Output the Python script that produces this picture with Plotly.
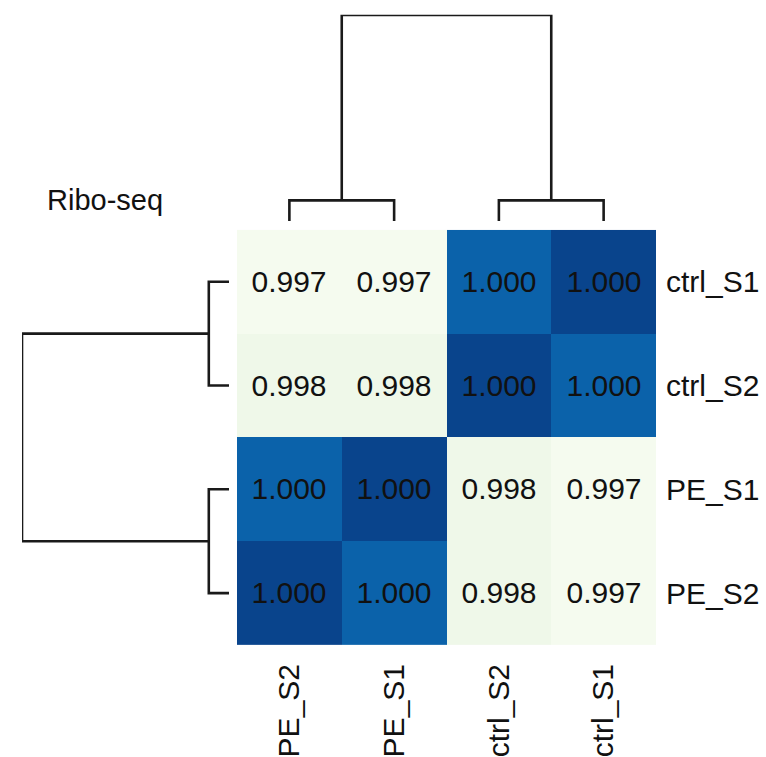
import plotly.graph_objects as go

# ---- data ----
col_labels = ["PE_S2", "PE_S1", "ctrl_S2", "ctrl_S1"]
row_labels = ["ctrl_S1", "ctrl_S2", "PE_S1", "PE_S2"]
# correlation values (rows top->bottom, columns left->right)
row_ctrl_S1 = [0.9972, 0.9972, 0.9997, 1.0000]
row_ctrl_S2 = [0.9978, 0.9978, 1.0000, 0.9997]
row_PE_S1 = [0.9997, 1.0000, 0.9978, 0.9972]
row_PE_S2 = [1.0000, 0.9997, 0.9978, 0.9972]
z = [row_ctrl_S1, row_ctrl_S2, row_PE_S1, row_PE_S2]

# dendrogram merges: (left member, right member, height); members >= 4 are earlier merges
col_linkage = [(0, 1, 0.0004), (2, 3, 0.0004), (4, 5, 0.0040)]
row_linkage = [(0, 1, 0.0004), (2, 3, 0.0004), (4, 5, 0.0041)]

title_text = "Ribo-seq"

W, H = 766, 757
FONT = "Liberation Sans, Arial, sans-serif"
LINE = dict(color="#1a1a1a", width=2.6)


def px_x(p):
    return p / W


def px_y(p):
    return 1 - p / H


def dendro_segments(linkage, n):
    pos = {i: float(i) for i in range(n)}
    hgt = {i: 0.0 for i in range(n)}
    segs = []
    for k, (a, b, h) in enumerate(linkage):
        node = n + k
        segs.append([(pos[a], hgt[a]), (pos[a], h), (pos[b], h), (pos[b], hgt[b])])
        pos[node] = (pos[a] + pos[b]) / 2
        hgt[node] = h
    return segs


fig = go.Figure()

fig.add_trace(go.Heatmap(
    z=z, x=list(range(len(col_labels))), y=list(range(len(row_labels))),
    zmin=0.997, zmax=1.0,
    colorscale=[[0.0, "#f7fcf2"], [0.0667, "#f5fbef"], [0.2667, "#eff8e9"],
                [0.9, "#0b62aa"], [1.0, "#09448c"]],
    showscale=False,
    texttemplate="%{z:.3f}",
    textfont=dict(family=FONT, size=30, color="#111111"),
    xaxis="x", yaxis="y", hoverinfo="skip",
))

for seg in dendro_segments(col_linkage, len(col_labels)):
    fig.add_trace(go.Scatter(
        x=[p[0] for p in seg], y=[p[1] for p in seg], mode="lines",
        line=LINE, xaxis="x2", yaxis="y2", showlegend=False,
        cliponaxis=False, hoverinfo="skip"))

for seg in dendro_segments(row_linkage, len(row_labels)):
    fig.add_trace(go.Scatter(
        x=[p[1] for p in seg], y=[p[0] for p in seg], mode="lines",
        line=LINE, xaxis="x3", yaxis="y3", showlegend=False,
        cliponaxis=False, hoverinfo="skip"))

hm_x = [px_x(237), px_x(656)]
hm_y = [px_y(651), px_y(232)]

fig.update_layout(
    width=W, height=H,
    margin=dict(l=0, r=0, t=0, b=0),
    paper_bgcolor="white", plot_bgcolor="white",
    font=dict(family=FONT, size=30, color="#111111"),
    showlegend=False,
    xaxis=dict(domain=hm_x, range=[-0.5, 3.5], anchor="y",
               tickvals=list(range(len(col_labels))), ticktext=col_labels,
               tickangle=-90, ticks="", ticklabelstandoff=12,
               showgrid=False, zeroline=False, showline=False,
               tickfont=dict(family=FONT, size=30, color="#111111")),
    yaxis=dict(domain=hm_y, range=[3.5, -0.5], anchor="x", side="right",
               tickvals=list(range(len(row_labels))), ticktext=row_labels,
               ticks="", ticklabelstandoff=9,
               showgrid=False, zeroline=False, showline=False,
               tickfont=dict(family=FONT, size=30, color="#111111")),
    xaxis2=dict(domain=hm_x, range=[-0.5, 3.5], anchor="y2",
                visible=False),
    yaxis2=dict(domain=[px_y(223), px_y(15)], range=[0, col_linkage[-1][2]],
                anchor="x2", visible=False),
    xaxis3=dict(domain=[px_x(22), px_x(229)], range=[row_linkage[-1][2], 0],
                anchor="y3", visible=False),
    yaxis3=dict(domain=hm_y, range=[3.5, -0.5], anchor="x3", visible=False),
    annotations=[dict(text=title_text, xref="paper", yref="paper",
                      x=px_x(45), y=px_y(202), xanchor="left", yanchor="middle",
                      showarrow=False,
                      font=dict(family=FONT, size=29, color="#111111"))],
)

fig.write_html("out.html")
